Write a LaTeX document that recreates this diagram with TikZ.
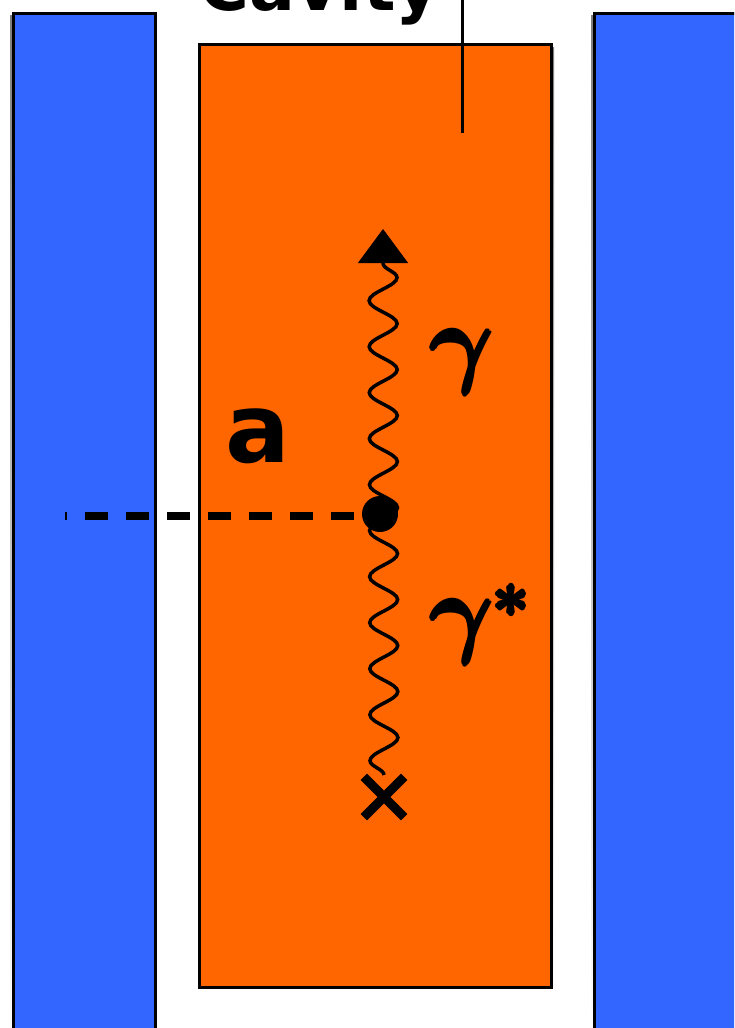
\documentclass[tikz,border=0pt]{standalone}
\usepackage{fontspec}
\setsansfont{DejaVu Sans}
\font\gbold=cmmib10 at 98pt
\font\sbold=cmbsy10 at 66pt
\newcommand\heavy[1]{\rlap{#1}\rlap{\kern1.5pt\raisebox{2pt}{#1}}\rlap{\kern1.5pt\raisebox{-2pt}{#1}}\rlap{\kern3pt#1}\kern1.5pt#1}
\usetikzlibrary{decorations.pathmorphing,arrows.meta}
\definecolor{plate}{HTML}{3366FF}
\definecolor{cav}{HTML}{FF6600}
\definecolor{shade}{HTML}{A8A8A8}
\tikzset{
  platebox/.style={fill=plate,draw=black,line width=3pt},
  cavbox/.style={fill=cav,draw=black,line width=3pt},
  photon/.style={draw=black,line width=3.5pt,decorate,decoration={snake,segment length=46pt,amplitude=14pt}},
  bigsans/.style={font=\sffamily\bfseries\fontsize{96}{100}\selectfont,inner sep=0pt},
  greek/.style={inner sep=0pt}
}
\begin{document}
\begin{tikzpicture}[x=1pt,y=-1pt]
\useasboundingbox (0,0) rectangle (734,1028);
\clip (0,0) rectangle (734,1028);
% plates
\fill[shade] (10,15) rectangle (14,1040);
\draw[platebox] (13,13) rectangle (155,1040);
\fill[shade] (591,15) rectangle (595,1040);
\draw[platebox] (594,13) rectangle (760,1040);
% cavity
\fill[shade] (201,47) rectangle (554,993);
\draw[cavbox] (199,44) rectangle (551,987);
% label line
\coordinate (lt) at (462,-5);
\coordinate (lb) at (462,133);
\draw[line width=3pt] (lt) -- (lb);
\node[bigsans,anchor=base east,font=\sffamily\bfseries\fontsize{68}{70}\selectfont] (cavity) at (440,10) {Cavity};
% dashed line
\coordinate (dl) at (65,514);
\node[circle,fill=black,minimum size=36pt,inner sep=0pt] (dot) at (380,514) {};
\draw[shade,line width=4pt,dash pattern=on 23pt off 18pt,dash phase=-20pt] (65,518) -- (362,518);
\draw[line width=4.5pt,dash pattern=on 23pt off 18pt,dash phase=-20pt] (dl) -- (dot.west);
% photons
\coordinate (xm) at (384,775);
\coordinate (top) at (383,229);
\draw[photon] (xm) -- (383,262);
\draw[line width=1pt,-{Triangle[length=34pt,width=50pt]}] (383,258) -- (top);
\node[greek,anchor=base west] (g1) at (428,374) {\heavy{\gbold\char13}};
\node[greek,anchor=base west] (g2) at (428,644) {\heavy{\gbold\char13}\kern3pt\raisebox{28pt}{\heavy{\sbold\char3}}};
\node[bigsans] (a) at (258,436) {a};
% x mark
\node[inner sep=0pt,minimum size=40pt] (cross) at (384,797) {};
\draw[line width=9pt] (cross.north west) -- (cross.south east) (cross.north east) -- (cross.south west);
\end{tikzpicture}
\end{document}
